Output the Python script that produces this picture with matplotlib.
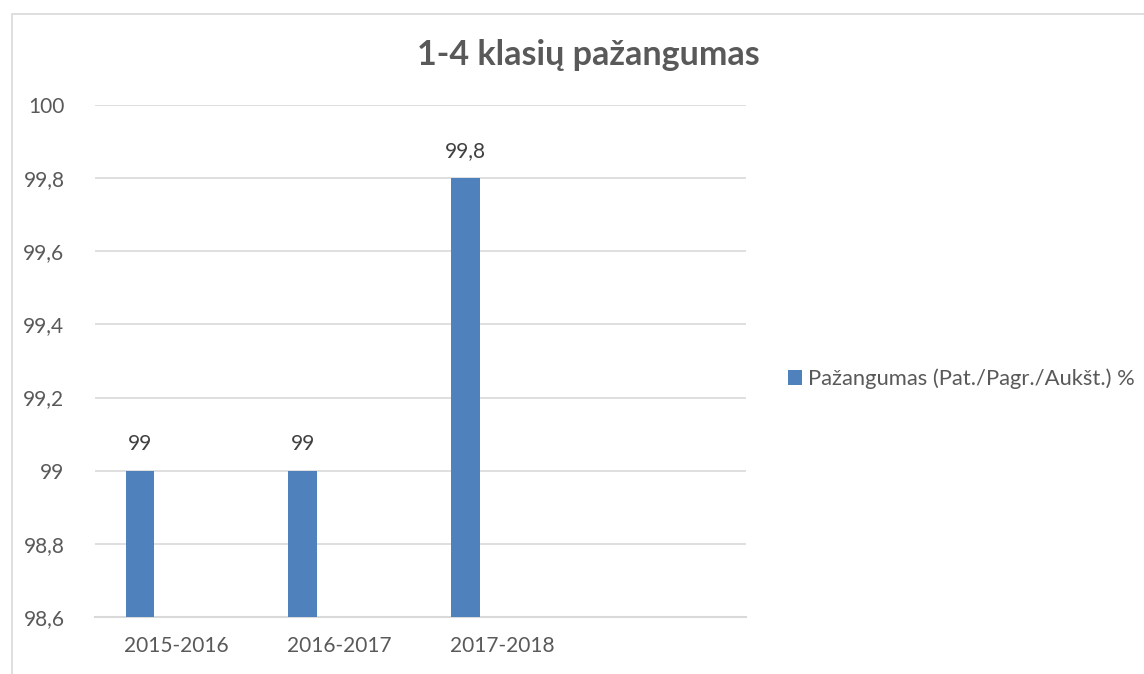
import matplotlib
matplotlib.use("Agg")
import matplotlib.pyplot as plt
from matplotlib.patches import Rectangle, Patch
from matplotlib.ticker import FixedLocator

categories = ["2015-2016", "2016-2017", "2017-2018", ""]
values = [99.0, 99.0, 99.8, None]
series_name = "Pažangumas (Pat./Pagr./Aukšt.) %"
title = "1-4 klasių pažangumas"
yticks = [98.6, 98.8, 99.0, 99.2, 99.4, 99.6, 99.8, 100.0]

W, H = 1144, 674
plt.rcParams['font.family'] = ['Lato', 'DejaVu Sans']
fig = plt.figure(figsize=(W / 100, H / 100), dpi=100)
fig.patch.set_facecolor("white")

# chart border (only top/left visible)
fig.add_artist(Rectangle((12 / W, 0 - 0.05), 1.2, (H - 14) / H + 0.05,
                         transform=fig.transFigure, fill=False,
                         edgecolor="#D9D9D9", linewidth=1.2))

left, right = 95 / W, 746 / W
bottom, top = (H - 617) / H, (H - 105) / H
ax = fig.add_axes([left, bottom, right - left, top - bottom])

bar_color = "#4F81BD"
text_color = "#595959"
offset = -0.224
width = 0.175

xs = [i + offset for i, v in enumerate(values) if v is not None]
vs = [v for v in values if v is not None]
bars = ax.bar(xs, [v - 98.6 for v in vs], bottom=98.6, width=width,
              color=bar_color, zorder=3)
for x, v in zip(xs, vs):
    lab = ("%g" % v).replace(".", ",")
    ax.annotate(lab, (x, v), xytext=(0, 12), textcoords="offset points",
                ha="center", va="bottom", fontsize=15, color="#404040")

ax.set_xlim(-0.5, len(categories) - 0.5)
ax.set_ylim(98.6, 100.0)
ax.yaxis.set_major_locator(FixedLocator(yticks))
ax.set_yticklabels([("%g" % t).replace(".", ",") for t in yticks])
ax.set_xticks(range(len(categories)))
ax.set_xticklabels(categories)
ax.tick_params(axis="both", length=0, labelsize=15, labelcolor=text_color)
ax.tick_params(axis="y", pad=22)
ax.tick_params(axis="x", pad=14)
ax.grid(axis="y", color="#D9D9D9", linewidth=1.2, zorder=0)
for s in ["top", "right", "left"]:
    ax.spines[s].set_visible(False)
ax.spines["bottom"].set_color("#D9D9D9")
ax.spines["bottom"].set_linewidth(1.5)

fig.text(588 / W, (H - 55) / H, title, ha="center", va="center",
         fontsize=24.5, fontweight="bold", color=text_color)

handle = Patch(facecolor=bar_color, edgecolor="none")
fig.legend([handle], [series_name], loc="center left",
           bbox_to_anchor=(788 / W, (H - 379) / H), frameon=False,
           borderpad=0, borderaxespad=0,
           fontsize=15.8, handlelength=0.65, handleheight=0.65,
           handletextpad=0.28, labelcolor=text_color)

fig.savefig("out.png", dpi=100, facecolor="white")
